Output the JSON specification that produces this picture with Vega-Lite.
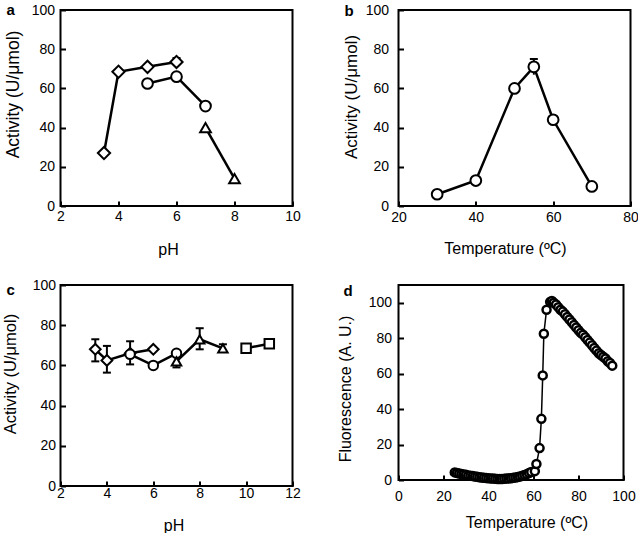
{
  "$schema": "https://vega.github.io/schema/vega-lite/v6.json",
  "padding": {"left": 1.5, "top": 2, "right": 0, "bottom": 0},
  "background": "white",
  "config": {
    "font": "Liberation Sans",
    "view": {"stroke": "black", "strokeWidth": 2},
    "axis": {
      "grid": false, "domain": false, "format": "d",
      "tickColor": "black", "tickSize": -5, "tickWidth": 2, "tickCount": 20,
      "labelFontSize": 14, "labelColor": "black", "labelPadding": 13,
      "labelFlush": false, "labelOverlap": false, "labelBound": false,
      "titleFontSize": 16, "titleFontWeight": "normal", "titleColor": "black"
    },
    "title": {"fontSize": 15, "fontWeight": "bold", "anchor": "start", "frame": "group", "offset": 0, "color": "black"}
  },
  "datasets": {
    "a": [
      {"s": "D", "x": 3.5, "y": 27}, {"s": "D", "x": 4, "y": 68.5}, {"s": "D", "x": 5, "y": 71}, {"s": "D", "x": 6, "y": 73.5},
      {"s": "C", "x": 5, "y": 62.5}, {"s": "C", "x": 6, "y": 66}, {"s": "C", "x": 7, "y": 51},
      {"s": "T", "x": 7, "y": 40}, {"s": "T", "x": 8, "y": 14}
    ],
    "aerr": [
      {"x": 6, "lo": 72, "hi": 75.5}
    ],
    "b": [
      {"s": "C", "x": 30, "y": 6}, {"s": "C", "x": 40, "y": 13}, {"s": "C", "x": 50, "y": 60},
      {"s": "C", "x": 55, "y": 71}, {"s": "C", "x": 60, "y": 44}, {"s": "C", "x": 70, "y": 10}
    ],
    "berr": [
      {"x": 55, "lo": 67, "hi": 75}
    ],
    "c": [
      {"s": "D", "x": 3.5, "y": 68}, {"s": "D", "x": 4, "y": 62.5}, {"s": "D", "x": 5, "y": 66}, {"s": "D", "x": 6, "y": 68},
      {"s": "C", "x": 5, "y": 65.5}, {"s": "C", "x": 6, "y": 60}, {"s": "C", "x": 7, "y": 66},
      {"s": "T", "x": 7, "y": 62}, {"s": "T", "x": 8, "y": 73}, {"s": "T", "x": 9, "y": 68.5},
      {"s": "S", "x": 10, "y": 68.5}, {"s": "S", "x": 11, "y": 70.8}
    ],
    "cerr": [
      {"x": 3.5, "lo": 62, "hi": 73}, {"x": 4, "lo": 56.4, "hi": 69.7}, {"x": 5, "lo": 60.5, "hi": 72},
      {"x": 7, "lo": 59, "hi": 65}, {"x": 8, "lo": 68, "hi": 78.5}, {"x": 9, "lo": 67, "hi": 70.5}
    ],
    "d": [
      {"t": 25, "f": 4.3}, {"t": 26, "f": 4.0}, {"t": 27, "f": 3.7}, {"t": 28, "f": 3.4}, {"t": 29, "f": 3.1},
      {"t": 30, "f": 2.9}, {"t": 31, "f": 2.6}, {"t": 32, "f": 2.4}, {"t": 33, "f": 2.2}, {"t": 34, "f": 2.0},
      {"t": 35, "f": 1.8}, {"t": 36, "f": 1.6}, {"t": 37, "f": 1.4}, {"t": 38, "f": 1.2}, {"t": 39, "f": 1.1},
      {"t": 40, "f": 1.0}, {"t": 41, "f": 0.9}, {"t": 42, "f": 0.8}, {"t": 43, "f": 0.7}, {"t": 44, "f": 0.6},
      {"t": 45, "f": 0.6}, {"t": 46, "f": 0.6}, {"t": 47, "f": 0.7}, {"t": 48, "f": 0.8}, {"t": 49, "f": 0.9},
      {"t": 50, "f": 1.0}, {"t": 51, "f": 1.2}, {"t": 52, "f": 1.4}, {"t": 53, "f": 1.7}, {"t": 54, "f": 2.0},
      {"t": 55, "f": 2.4}, {"t": 56, "f": 2.8}, {"t": 57, "f": 3.3}, {"t": 58, "f": 3.9}, {"t": 59, "f": 4.5},
      {"t": 60.6, "f": 5}, {"t": 61.3, "f": 9}, {"t": 62.7, "f": 18}, {"t": 63.5, "f": 34.5},
      {"t": 64.1, "f": 59}, {"t": 64.6, "f": 82.5}, {"t": 65.8, "f": 96}, {"t": 67.4, "f": 100.5},
      {"t": 68.2, "f": 101}, {"t": 69, "f": 100}, {"t": 70, "f": 99}, {"t": 71, "f": 97.5}, {"t": 72, "f": 96},
      {"t": 73, "f": 95}, {"t": 74, "f": 93.5}, {"t": 75, "f": 92}, {"t": 76, "f": 90.5}, {"t": 77, "f": 89},
      {"t": 78, "f": 87.5}, {"t": 79, "f": 86}, {"t": 80, "f": 84.5}, {"t": 81, "f": 83}, {"t": 82, "f": 82},
      {"t": 83, "f": 80.5}, {"t": 84, "f": 79}, {"t": 85, "f": 77.5}, {"t": 86, "f": 76}, {"t": 87, "f": 74.5},
      {"t": 88, "f": 73}, {"t": 89, "f": 71.5}, {"t": 90, "f": 70.5}, {"t": 91, "f": 69.5}, {"t": 92, "f": 68.5},
      {"t": 93, "f": 67}, {"t": 94, "f": 66}, {"t": 95, "f": 64.5}
    ]
  },
  "columns": 2,
  "bounds": "flush",
  "spacing": {"row": 79, "column": 106},
  "concat": [
    {
      "width": 232, "height": 196,
      "title": {"text": "a", "dx": -54, "dy": 15, "offset": 0},
      "layer": [
        {
          "data": {"name": "a"},
          "mark": {"type": "line", "color": "black", "strokeWidth": 2.5},
          "encoding": {
            "x": {"field": "x", "type": "quantitative", "scale": {"domain": [2, 10]}, "axis": {"values": [2, 4, 6, 8, 10], "title": "pH", "labelPadding": 8, "titlePadding": 18, "titleX": 107.5}},
            "y": {"field": "y", "type": "quantitative", "scale": {"domain": [0, 100]}, "axis": {"values": [0, 20, 40, 60, 80, 100], "title": "Activity (U/μmol)", "titleFontSize": 17.5, "labelPadding": 11, "titlePadding": 9, "titleY": 84}},
            "detail": {"field": "s"}
          }
        },
        {
          "data": {"name": "aerr"},
          "mark": {"type": "rule", "color": "black", "strokeWidth": 2},
          "encoding": {"x": {"field": "x", "type": "quantitative"}, "y": {"field": "lo", "type": "quantitative"}, "y2": {"field": "hi"}}
        },
        {
          "data": {"name": "aerr"},
          "mark": {"type": "tick", "orient": "horizontal", "color": "black", "thickness": 2, "size": 8, "opacity": 1},
          "encoding": {"x": {"field": "x", "type": "quantitative"}, "y": {"field": "hi", "type": "quantitative"}}
        },
        {
          "data": {"name": "a"},
          "mark": {"type": "point", "filled": true, "fill": "white", "stroke": "black", "strokeWidth": 2, "opacity": 1},
          "encoding": {
            "x": {"field": "x", "type": "quantitative"},
            "y": {"field": "y", "type": "quantitative"},
            "shape": {"field": "s", "type": "nominal", "scale": {"domain": ["D", "C", "T", "S"], "range": ["diamond", "circle", "triangle-up", "square"]}, "legend": null},
            "size": {"condition": {"test": "datum.s === 'D'", "value": 150}, "value": 115}
          }
        }
      ]
    },
    {
      "width": 232, "height": 196,
      "title": {"text": "b", "dx": -54, "dy": 16, "offset": 0},
      "layer": [
        {
          "data": {"name": "b"},
          "mark": {"type": "line", "color": "black", "strokeWidth": 2.5},
          "encoding": {
            "x": {"field": "x", "type": "quantitative", "scale": {"domain": [20, 80]}, "axis": {"values": [20, 40, 60, 80], "title": "Temperature (ºC)", "labelPadding": 9, "titlePadding": 16, "titleX": 106.5}},
            "y": {"field": "y", "type": "quantitative", "scale": {"domain": [0, 100]}, "axis": {"values": [0, 20, 40, 60, 80, 100], "title": "Activity (U/μmol)", "titleFontSize": 17, "labelPadding": 15, "titlePadding": 5, "titleY": 86.5}}
          }
        },
        {
          "data": {"name": "berr"},
          "mark": {"type": "rule", "color": "black", "strokeWidth": 2},
          "encoding": {"x": {"field": "x", "type": "quantitative"}, "y": {"field": "lo", "type": "quantitative"}, "y2": {"field": "hi"}}
        },
        {
          "data": {"name": "berr"},
          "mark": {"type": "tick", "orient": "horizontal", "color": "black", "thickness": 2, "size": 8, "opacity": 1},
          "encoding": {"x": {"field": "x", "type": "quantitative"}, "y": {"field": "hi", "type": "quantitative"}}
        },
        {
          "data": {"name": "b"},
          "mark": {"type": "point", "shape": "circle", "filled": true, "fill": "white", "stroke": "black", "strokeWidth": 2, "opacity": 1, "size": 115},
          "encoding": {
            "x": {"field": "x", "type": "quantitative"},
            "y": {"field": "y", "type": "quantitative"}
          }
        }
      ]
    },
    {
      "width": 232, "height": 201,
      "title": {"text": "c", "dx": -54, "dy": 20, "offset": 0},
      "layer": [
        {
          "data": {"name": "c"},
          "mark": {"type": "line", "color": "black", "strokeWidth": 2.5},
          "encoding": {
            "x": {"field": "x", "type": "quantitative", "scale": {"domain": [2, 12]}, "axis": {"values": [2, 4, 6, 8, 10, 12], "title": "pH", "labelPadding": 5, "titlePadding": 17, "titleX": 113}},
            "y": {"field": "y", "type": "quantitative", "scale": {"domain": [0, 100]}, "axis": {"values": [0, 20, 40, 60, 80, 100], "title": "Activity (U/μmol)", "titleFontSize": 16.5, "labelPadding": 10, "titlePadding": 13.5, "titleY": 88.5}},
            "detail": {"field": "s"}
          }
        },
        {
          "data": {"name": "cerr"},
          "mark": {"type": "rule", "color": "black", "strokeWidth": 2},
          "encoding": {"x": {"field": "x", "type": "quantitative"}, "y": {"field": "lo", "type": "quantitative"}, "y2": {"field": "hi"}}
        },
        {
          "data": {"name": "cerr"},
          "mark": {"type": "tick", "orient": "horizontal", "color": "black", "thickness": 2, "size": 8, "opacity": 1},
          "encoding": {"x": {"field": "x", "type": "quantitative"}, "y": {"field": "hi", "type": "quantitative"}}
        },
        {
          "data": {"name": "cerr"},
          "mark": {"type": "tick", "orient": "horizontal", "color": "black", "thickness": 2, "size": 8, "opacity": 1},
          "encoding": {"x": {"field": "x", "type": "quantitative"}, "y": {"field": "lo", "type": "quantitative"}}
        },
        {
          "data": {"name": "c"},
          "mark": {"type": "point", "filled": true, "fill": "white", "stroke": "black", "strokeWidth": 2, "opacity": 1},
          "encoding": {
            "x": {"field": "x", "type": "quantitative"},
            "y": {"field": "y", "type": "quantitative"},
            "shape": {"field": "s", "type": "nominal", "scale": {"domain": ["D", "C", "T", "S"], "range": ["diamond", "circle", "triangle-up", "square"]}, "legend": null},
            "size": {"condition": {"test": "datum.s === 'D'", "value": 115}, "value": 90}
          }
        }
      ]
    },
    {
      "width": 225, "height": 195,
      "title": {"text": "d", "dx": -55, "dy": 14, "offset": 0},
      "layer": [
        {
          "data": {"name": "d"},
          "mark": {"type": "line", "color": "black", "strokeWidth": 1.5},
          "encoding": {
            "x": {"field": "t", "type": "quantitative", "scale": {"domain": [0, 100]}, "axis": {"values": [0, 20, 40, 60, 80, 100], "title": "Temperature (ºC)", "titlePadding": 11, "labelPadding": 14, "titleX": 128}},
            "y": {"field": "f", "type": "quantitative", "scale": {"domain": [0, 110]}, "axis": {"values": [0, 20, 40, 60, 80, 100], "title": "Fluorescence (A. U.)", "titlePadding": 15, "labelPadding": 12, "titleY": 103.5}}
          }
        },
        {
          "data": {"name": "d"},
          "mark": {"type": "point", "shape": "circle", "filled": true, "fill": "white", "stroke": "black", "strokeWidth": 2.5, "opacity": 1, "size": 64},
          "encoding": {
            "x": {"field": "t", "type": "quantitative"},
            "y": {"field": "f", "type": "quantitative"}
          }
        }
      ]
    }
  ]
}
